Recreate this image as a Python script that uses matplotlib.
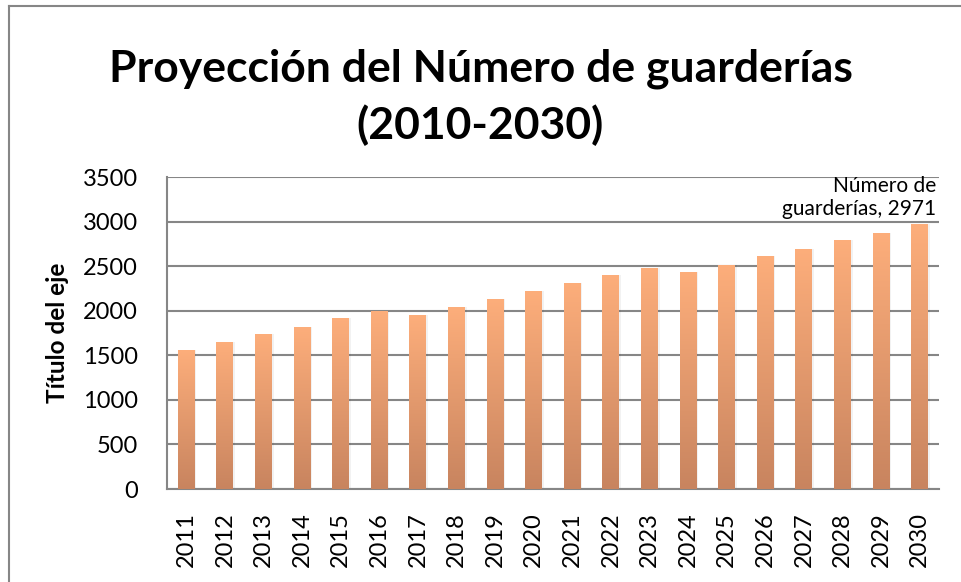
import matplotlib
matplotlib.use("Agg")
import matplotlib.pyplot as plt
import numpy as np
from matplotlib.colors import LinearSegmentedColormap
from matplotlib.lines import Line2D
import matplotlib.transforms as mtrans

years = [str(y) for y in range(2011, 2031)]
values = [1562, 1651, 1740, 1822, 1923, 1998, 1953, 2042, 2132, 2221,
          2314, 2403, 2482, 2437, 2515, 2616, 2694, 2795, 2873, 2971]
title = "Proyección del Número de guarderías\n(2010-2030)"
ylabel = "Título del eje"
series_name = "Número de\nguarderías"
yticks = [0, 500, 1000, 1500, 2000, 2500, 3000, 3500]

plt.rcParams['font.family'] = ['Lato', 'DejaVu Sans']

fig = plt.figure(figsize=(9.61, 5.82), dpi=100)
ax = fig.add_axes([167/961, 1-489/582, (939-167)/961, (489-177)/582])

x = np.arange(len(years))
width = 0.44
bars = ax.bar(x, values, width=width, color='none', edgecolor='none', zorder=3)

cmap = LinearSegmentedColormap.from_list("g", ["#C8845F", "#FDAE7B"])
grad = np.linspace(0, 1, 256).reshape(-1, 1)
for b in bars:
    x0, y0 = b.get_x(), b.get_y()
    w, h = b.get_width(), b.get_height()
    # soft shadow
    ax.bar(x0 + w/2 + 0.04, h, width=w, color='#000000', alpha=0.05, zorder=2, edgecolor='none')
    im = ax.imshow(grad, extent=[x0, x0 + w, y0, y0 + h], origin='lower',
                   cmap=cmap, aspect='auto', zorder=3, interpolation='bilinear')
    im.set_clip_path(b)

ax.set_xlim(-0.5, len(years) - 0.5)
ax.set_ylim(0, 3500)
ax.set_yticks(yticks)
ax.set_yticklabels([str(t) for t in yticks], fontsize=17)
ax.set_xticks(x)
ax.set_xticklabels(years, rotation=90, fontsize=17)
ax.tick_params(axis='both', length=0)
ax.tick_params(axis='x', pad=16.5)
ax.tick_params(axis='y', pad=21)

ax.grid(axis='y', color='#868686', linewidth=1.5, zorder=1)
ax.set_axisbelow(True)
for s in ['top', 'right']:
    ax.spines[s].set_visible(False)
for s in ['left', 'bottom']:
    ax.spines[s].set_color('#868686')
    ax.spines[s].set_linewidth(1.5)

ax.set_ylabel(ylabel, fontsize=17.5, fontweight='bold')
ax.yaxis.set_label_coords(-98/772, 0.5)

fig.text(0.5, 1-97/582, title, ha='center', va='center', fontsize=32,
         fontweight='bold', linespacing=1.45)

# data label for last bar
trans = mtrans.blended_transform_factory(ax.transAxes, ax.transData)
ax.annotate(f"{series_name}, {values[-1]}", xy=(1.0, values[-1]), xycoords=trans,
            xytext=(-2, 4), textcoords='offset points', ha='right', va='bottom',
            fontsize=15, linespacing=1.15)

# outer chart frame (left and top visible)
fig.add_artist(Line2D([9/961, 9/961], [0, 1-6/582], transform=fig.transFigure,
                      color='#868686', linewidth=1.5))
fig.add_artist(Line2D([9/961, 1], [1-6/582, 1-6/582], transform=fig.transFigure,
                      color='#868686', linewidth=1.5))

fig.savefig("out.png", dpi=100)
